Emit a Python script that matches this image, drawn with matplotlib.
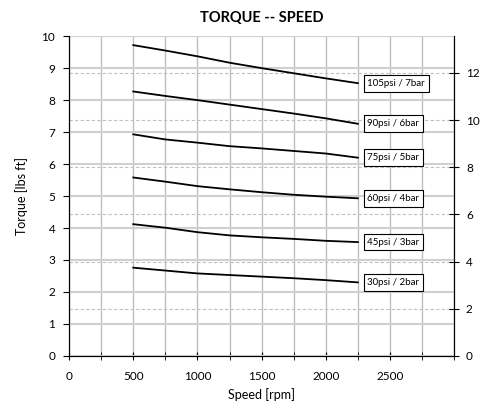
import matplotlib.pyplot as plt
import numpy as np

plt.rcParams['font.family'] = ['Lato', 'DejaVu Sans']

speed = [500, 750, 1000, 1250, 1500, 1750, 2000, 2250]
t105 = [9.72, 9.55, 9.37, 9.17, 9.00, 8.84, 8.68, 8.53]
t90 = [8.27, 8.13, 8.00, 7.86, 7.72, 7.58, 7.43, 7.26]
t75 = [6.93, 6.77, 6.67, 6.56, 6.49, 6.41, 6.33, 6.20]
t60 = [5.58, 5.45, 5.31, 5.21, 5.12, 5.04, 4.98, 4.93]
t45 = [4.12, 4.01, 3.87, 3.77, 3.71, 3.66, 3.60, 3.56]
t30 = [2.76, 2.67, 2.58, 2.53, 2.48, 2.43, 2.37, 2.30]
names = ["105psi / 7bar", "90psi / 6bar", "75psi / 5bar",
         "60psi / 4bar", "45psi / 3bar", "30psi / 2bar"]
series = [t105, t90, t75, t60, t45, t30]

fig = plt.figure(figsize=(4.8, 4.11), dpi=100)
ax = fig.add_axes([0.144, 0.134, 0.802, 0.778])
ax2 = ax.twinx()
# keep the curves above the dashed Nm grid
ax.set_zorder(2)
ax.patch.set_visible(False)

ax.set_xlim(0, 3000)
ax.set_ylim(0, 10)
ax2.set_ylim(0, 10 * 1.3558)

ax.set_xticks(np.arange(0, 3000, 500))
ax.set_xticks(np.arange(0, 3001, 250), minor=True)
ax.set_yticks(np.arange(0, 11, 1))
ax2.set_yticks(np.arange(0, 13, 2))

ax.grid(True, which='both', axis='x', color='#bfbfbf', lw=1)
ax.grid(True, which='major', axis='y', color='#d0d0d0', lw=1.5)
ax2.grid(True, axis='y', color='#c0c0c0', lw=0.8, ls=(0, (3, 2)))
ax.set_axisbelow(True)

for s, name in zip(series, names):
    ax.plot(speed, s, color='black', lw=1.3, zorder=5)
    ax.text(speed[-1] + 75, s[-1], name, fontsize=7, va='center', ha='left',
            zorder=6, bbox=dict(boxstyle='square,pad=0.4', fc='white', ec='black', lw=0.8))

for a in (ax, ax2):
    for sp in a.spines.values():
        sp.set_color('black')
    a.spines['top'].set_visible(False)
ax.tick_params(axis='y', direction='out', length=4, labelsize=8.5, pad=6)
ax.tick_params(axis='x', which='both', direction='inout', length=6, labelsize=8.5, pad=8)
ax2.tick_params(axis='y', direction='inout', length=7, labelsize=8.5, pad=5)

ax.set_xlabel("Speed [rpm]", fontsize=9)
ax.set_ylabel("Torque [lbs ft]", fontsize=9, labelpad=10)
ax.set_title("TORQUE -- SPEED", fontsize=10.5, fontweight='bold', pad=10)

fig.savefig("out.png", dpi=100)
